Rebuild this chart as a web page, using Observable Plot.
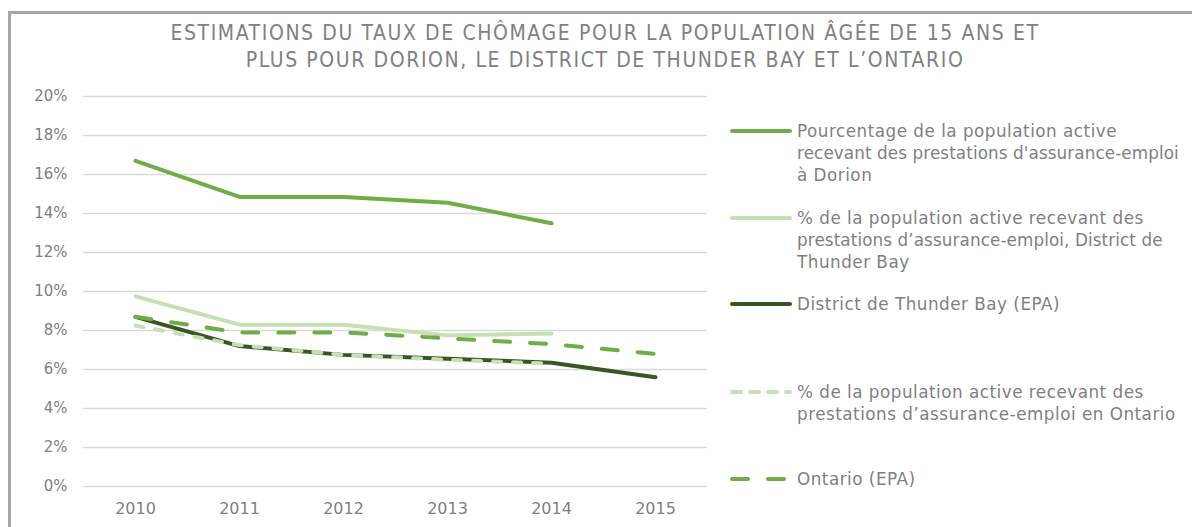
<!DOCTYPE html>
<html>
<head>
<meta charset="utf-8">
<script src="https://cdn.jsdelivr.net/npm/d3@7"></script>
<script src="https://cdn.jsdelivr.net/npm/@observablehq/plot@0.6"></script>
<style>
  html, body { margin: 0; padding: 0; background: #fff; }
  #page { position: relative; width: 1192px; height: 527px; overflow: hidden; font-family: "DejaVu Sans", sans-serif; }
  #frame { position: absolute; left: 8px; top: 11px; width: 1200px; height: 600px; border-top: 3px solid #a6a6a6; border-left: 3px solid #a6a6a6; }
  #title { position: absolute; left: 0; top: 20px; width: 1210px; text-align: center; font-family: "DejaVu Sans Condensed", "Liberation Sans Narrow", sans-serif; font-weight: 300; font-size: 21px; line-height: 27px; color: #808080; letter-spacing: 1.6px; }
  #chart { position: absolute; left: 0; top: 80px; }
  #legend { position: absolute; left: 0; top: 0; }
  .item { position: absolute; left: 730px; display: flex; align-items: flex-start; }
  .item svg { flex: none; margin-top: 0; }
  .item .txt { font-size: 16.8px; letter-spacing: 0.5px; line-height: 22px; color: #7f7f7f; margin-left: 5px; white-space: nowrap; }
  .item .txt div.long { letter-spacing: 0.1px; }
</style>
</head>
<body>
<div id="page">
  <div id="frame"></div>
  <div id="title">ESTIMATIONS DU TAUX DE CHÔMAGE POUR LA POPULATION ÂGÉE DE 15 ANS ET<br>PLUS POUR DORION, LE DISTRICT DE THUNDER BAY ET L’ONTARIO</div>
  <div id="chart"></div>
  <div id="legend"></div>
</div>
<script>
const years = ["2010", "2011", "2012", "2013", "2014", "2015"];
const yTicks = [0, 2, 4, 6, 8, 10, 12, 14, 16, 18, 20];

const seriesNames = [
  "Pourcentage de la population active recevant des prestations d'assurance-emploi à Dorion",
  "% de la population active recevant des prestations d’assurance-emploi, District de Thunder Bay",
  "District de Thunder Bay (EPA)",
  "% de la population active recevant des prestations d’assurance-emploi en Ontario",
  "Ontario (EPA)"
];
const legendLines = [
  ["Pourcentage de la population active", "recevant des prestations d'assurance-emploi", "à Dorion"],
  ["% de la population active recevant des", "prestations d’assurance-emploi, District de", "Thunder Bay"],
  ["District de Thunder Bay (EPA)"],
  ["% de la population active recevant des", "prestations d’assurance-emploi en Ontario"],
  ["Ontario (EPA)"]
];

const dorionEI     = [16.7, 14.85, 14.85, 14.55, 13.5, null];
const thunderBayEI = [9.75, 8.3, 8.3, 7.75, 7.85, null];
const thunderBayEPA = [8.7, 7.2, 6.75, 6.55, 6.35, 5.6];
const ontarioEI    = [8.25, 7.25, 6.75, 6.5, 6.3, null];
const ontarioEPA   = [8.7, 7.9, 7.9, 7.6, 7.3, 6.8];

const colors = ["#70ad47", "#c5e0b4", "#375623", "#c5e0b4", "#70ad47"];
const dashes = [null, null, null, "8,12", "16,20"];
const allValues = [dorionEI, thunderBayEI, thunderBayEPA, ontarioEI, ontarioEPA];

function rows(vals) {
  return years.map((y, i) => ({year: y, value: vals[i]})).filter(d => d.value != null);
}

// draw order: dark solid first, then light solids, then dashed on top
const order = [2, 1, 0, 4, 3];
const lineMarks = order.map(k => Plot.line(rows(allValues[k]), {
  x: "year", y: "value", stroke: colors[k], strokeWidth: 4,
  strokeDasharray: dashes[k] || undefined, strokeLinecap: "round", strokeLinejoin: "round"
}));

const chart = Plot.plot({
  width: 715,
  height: 447,
  marginTop: 16,
  marginBottom: 41,
  marginLeft: 83,
  marginRight: 8,
  style: { fontFamily: "DejaVu Sans, sans-serif", fontSize: "15px", color: "#7f7f7f", background: "transparent" },
  x: { type: "point", domain: years, padding: 0.5, label: null, tickSize: 0, tickPadding: 16 },
  y: { domain: [0, 20], ticks: yTicks, label: null, tickSize: 0, tickPadding: 16, tickFormat: d => d + "%" },
  marks: [
    Plot.gridY(yTicks, { stroke: "#d9d9d9", strokeOpacity: 1, strokeWidth: 1.3 }),
    ...lineMarks
  ]
});
chart.querySelectorAll("g[aria-label='x-axis tick label'] text").forEach(t => t.style.fontSize = "16px");
document.getElementById("chart").appendChild(chart);

// legend
const legendTops = [120, 207, 293, 381, 468];
const legend = document.getElementById("legend");
legendLines.forEach((lines, k) => {
  const item = document.createElement("div");
  item.className = "item";
  item.style.top = legendTops[k] + "px";
  const svgNS = "http://www.w3.org/2000/svg";
  const svg = document.createElementNS(svgNS, "svg");
  svg.setAttribute("width", 62);
  svg.setAttribute("height", 22);
  const ln = document.createElementNS(svgNS, "line");
  ln.setAttribute("x1", 2); ln.setAttribute("x2", 60);
  ln.setAttribute("y1", 11); ln.setAttribute("y2", 11);
  ln.setAttribute("stroke", colors[k]);
  ln.setAttribute("stroke-width", 4);
  ln.setAttribute("stroke-linecap", "round");
  if (dashes[k]) ln.setAttribute("stroke-dasharray", k === 3 ? "9,9" : "16,20");
  svg.appendChild(ln);
  item.appendChild(svg);
  const txt = document.createElement("div");
  txt.className = "txt";
  lines.forEach(s => {
    const d = document.createElement("div");
    d.textContent = s;
    if (s.length > 42) d.className = "long";
    txt.appendChild(d);
  });
  item.appendChild(txt);
  legend.appendChild(item);
});
</script>
</body>
</html>
